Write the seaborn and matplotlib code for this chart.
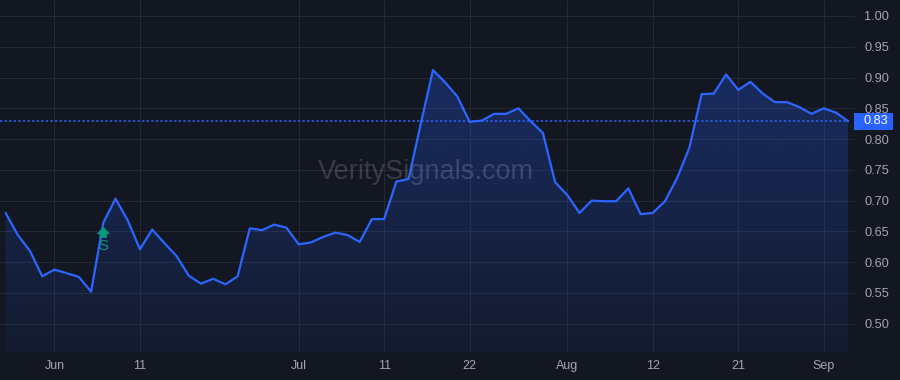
import numpy as np
import pandas as pd
import matplotlib
matplotlib.use("Agg")
import matplotlib.pyplot as plt
import matplotlib.transforms as mtransforms
from matplotlib.patches import PathPatch, Rectangle
from matplotlib.colors import to_rgb
import seaborn as sns

# ---------------- data ----------------
start_date = "2025-05-27"
end_date = "2025-09-04"
market_holidays = ["2025-06-19", "2025-07-04", "2025-09-01"]

values = [
    0.680, 0.644, 0.618, 0.577, 0.588, 0.582, 0.576, 0.552, 0.664, 0.703,
    0.668, 0.621, 0.653, 0.631, 0.610, 0.578, 0.565, 0.573, 0.564, 0.577,
    0.655, 0.652, 0.661, 0.656, 0.629, 0.632, 0.641, 0.648, 0.644, 0.633,
    0.670, 0.670, 0.731, 0.735, 0.825, 0.912, 0.892, 0.869, 0.828, 0.830,
    0.841, 0.841, 0.850, 0.829, 0.810, 0.730, 0.709, 0.680, 0.700, 0.699,
    0.699, 0.720, 0.678, 0.680, 0.699, 0.737, 0.786, 0.873, 0.874, 0.905,
    0.880, 0.893, 0.874, 0.860, 0.860, 0.852, 0.841, 0.850, 0.843, 0.829,
]

tick_dates = ["2025-06-02", "2025-06-11", "2025-07-01", "2025-07-11", "2025-07-22",
              "2025-08-01", "2025-08-12", "2025-08-21", "2025-09-02"]
tick_labels = ["Jun", "11", "Jul", "11", "22", "Aug", "12", "21", "Sep"]

y_ticks = [0.50, 0.55, 0.60, 0.65, 0.70, 0.75, 0.80, 0.85, 0.90, 0.95, 1.00]

signal_date = "2025-06-06"
signal_label = "S"
watermark = "VeritySignals.com"

# ---------------- build frame ----------------
dates = pd.bdate_range(start_date, end_date, freq="C", holidays=market_holidays)
df = pd.DataFrame({"date": dates, "value": values})
df["idx"] = np.arange(len(df))
date_to_idx = {d.strftime("%Y-%m-%d"): i for i, d in enumerate(dates)}

# ---------------- style ----------------
BG = "#131722"
GRID = "#262a35"
TEXT = "#a3a6af"
BLUE = "#2962ff"
LINE = "#2c66ff"
GREEN = "#089981"

sns.set_theme(style="dark")
plt.rcParams["font.family"] = ["Liberation Sans", "DejaVu Sans"]

W, H = 900, 380
fig = plt.figure(figsize=(W / 100, H / 100), dpi=100, facecolor=BG)
ax = fig.add_axes([0, 28 / H, 849 / W, 352 / H])
ax.set_facecolor(BG)

xlim = (-0.46, len(df) - 1 + 0.07)
ylim = (0.454, 1.026)

# gradient area fill
poly = ax.fill_between(df["idx"], df["value"], ylim[0], color="none", linewidth=0)
path = poly.get_paths()[0]
patch = PathPatch(path, transform=ax.transData, facecolor="none", edgecolor="none")
ax.add_patch(patch)
rgb = to_rgb(BLUE)
n = 256
alpha = np.linspace(0.28, 0.06, n)
grad = np.zeros((n, 1, 4))
grad[:, 0, 0] = rgb[0]
grad[:, 0, 1] = rgb[1]
grad[:, 0, 2] = rgb[2]
grad[:, 0, 3] = alpha
im = ax.imshow(grad, extent=[xlim[0], xlim[1], ylim[0], max(values)],
               aspect="auto", origin="upper", zorder=1, interpolation="bilinear")
im.set_clip_path(patch)

# watermark
ax.text(0.502, 0.511, watermark, transform=ax.transAxes, ha="center", va="center",
        fontsize=19.5, color="white", alpha=0.16, zorder=2,
        family=["Liberation Sans", "DejaVu Sans"])

# main line
sns.lineplot(data=df, x="idx", y="value", ax=ax, color=LINE, linewidth=1.6, zorder=3)

# last value dotted line
last = values[-1]
ax.axhline(last, color=BLUE, linewidth=1.1, linestyle=(0, (1.5, 1.5)), zorder=2.5)

# signal marker
si = date_to_idx[signal_date]
sv = values[si]
tip_tr = mtransforms.offset_copy(ax.transData, fig=fig, y=-3.0, units="points")
tail_tr = mtransforms.offset_copy(ax.transData, fig=fig, y=-10.8, units="points")
ax.annotate("", xy=(si, sv), xycoords=tip_tr, xytext=(si, sv), textcoords=tail_tr,
            arrowprops=dict(arrowstyle="simple,head_length=0.42,head_width=0.75,tail_width=0.42",
                            facecolor=GREEN, edgecolor=GREEN, shrinkA=0, shrinkB=0, lw=0.3),
            zorder=4)
ax.annotate(signal_label, xy=(si, sv), xycoords="data", xytext=(0, -17.0),
            textcoords="offset points", ha="center", va="center",
            color=GREEN, fontsize=10.5, zorder=4)

# axes setup
ax.set_xlim(*xlim)
ax.set_ylim(*ylim)
ax.set_xlabel("")
ax.set_ylabel("")
ax.set_xticks([date_to_idx[d] for d in tick_dates])
ax.set_xticklabels(tick_labels)
ax.set_yticks(y_ticks)
ax.set_yticklabels([f"{v:.2f}" for v in y_ticks])
ax.yaxis.tick_right()
ax.tick_params(axis="x", length=0, pad=5.8, labelsize=9, colors=TEXT)
ax.tick_params(axis="y", length=3.6, width=0.7, color=GRID, pad=7.5, labelsize=9.2,
               labelcolor=TEXT, right=True, left=False)
for lab in ax.get_yticklabels():
    lab.set_horizontalalignment("left")
ax.grid(True, color=GRID, linewidth=0.7)
ax.set_axisbelow(True)
for s in ax.spines.values():
    s.set_visible(False)

# price label box on the axis
ytr = ax.get_yaxis_transform()
box_h = (ylim[1] - ylim[0]) * 16.7 / 352
ax.add_patch(Rectangle((854 / 849, last - box_h / 2), 39 / 849, box_h, transform=ytr,
                       facecolor=BLUE, edgecolor="none", clip_on=False, zorder=5))
ax.text(864 / 849, last, f"{last:.2f}", transform=ytr, ha="left", va="center",
        color="white", fontsize=9.2, zorder=6, clip_on=False)

fig.savefig("out.png", dpi=100, facecolor=BG)
